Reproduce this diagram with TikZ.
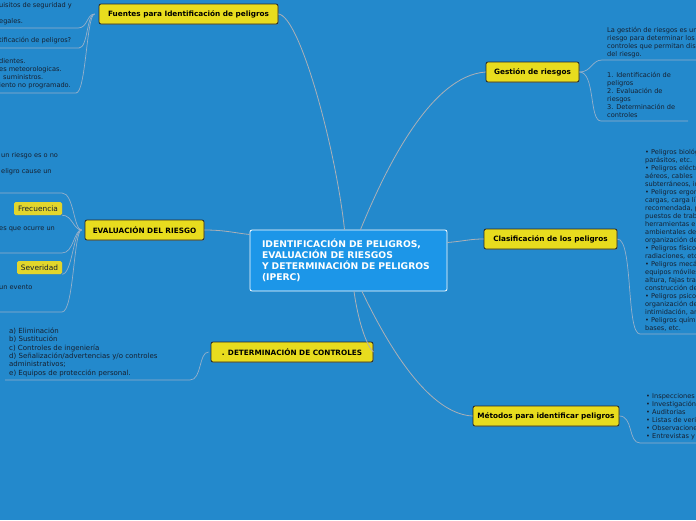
\documentclass[tikz,border=0pt]{standalone}
\usepackage{fontspec}
\setmainfont{DejaVu Sans}
\usepackage{xcolor}
\usepackage{tikz}
\usetikzlibrary{positioning,shadows}
\definecolor{mapbg}{RGB}{35,137,204}
\definecolor{corefill}{RGB}{28,150,232}
\definecolor{topicfill}{RGB}{232,220,30}
\definecolor{tagfill}{RGB}{226,214,44}
\definecolor{inkdark}{RGB}{22,32,48}
\definecolor{branch}{RGB}{172,176,182}
\definecolor{twigline}{RGB}{150,176,202}

\begin{document}
\begin{tikzpicture}[x=1pt,y=-1pt,
  core/.style={draw=white,thick,rounded corners=2pt,fill=corefill,text=white,
               font=\fontsize{9.2}{11}\selectfont\bfseries,align=left,
               text width=173pt,inner xsep=12pt,minimum height=61pt},
  topic/.style={draw=black!85,thick,rounded corners=2pt,fill=topicfill,
                text=black,font=\fontsize{7.3}{8}\selectfont\bfseries,
                minimum height=20pt,inner xsep=0pt,
                drop shadow={shadow xshift=0.8pt,shadow yshift=-0.8pt,opacity=0.35}},
  tag/.style={rounded corners=1.5pt,fill=tagfill,text=inkdark,
              font=\fontsize{7.4}{8}\selectfont,minimum height=13pt,inner xsep=0pt,
              drop shadow={shadow xshift=0.6pt,shadow yshift=-0.6pt,opacity=0.25}},
  leaf/.style={anchor=north west,align=left,inner sep=0pt,text=inkdark,
               font=\fontsize{6.6}{8}\selectfont},
  branchline/.style={draw=branch,line width=0.8pt},
  twig/.style={draw=twigline,line width=0.7pt}
]
\useasboundingbox (0,0) rectangle (696,520);
\clip (0,0) rectangle (696,520);
\fill[mapbg] (0,0) rectangle (696,520);

% central topic and main branches
\node[core] (iperc) at (348.5,260.5) {IDENTIFICACIÓN DE PELIGROS,\\EVALUACIÓN DE RIESGOS\\Y DETERMINACIÓN DE PELIGROS\\(IPERC)};
\node[topic,minimum width=179pt] (fuentes) at (188.5,14) {Fuentes para Identificación de peligros};
\node[topic,minimum width=93pt] (gestion) at (532.5,72) {Gestión de riesgos};
\node[topic,minimum width=119pt] (evaluacion) at (144.5,230) {EVALUACIÓN DEL RIESGO};
\node[topic,minimum width=133pt] (clasif) at (550.5,239) {Clasificación de los peligros};
\node[topic,minimum width=162pt] (determ) at (292,352) {. DETERMINACIÓN DE CONTROLES};
\node[topic,minimum width=146pt] (metodos) at (546,416) {Métodos para identificar peligros};

\draw[branchline] ([xshift=-4]iperc.north) .. controls (336,150) and (300,16) .. (fuentes.east);
\draw[branchline] ([xshift=12]iperc.north) .. controls (385,170) and (430,76) .. (gestion.west);
\draw[branchline] ([yshift=26]iperc.west) .. controls (235,233) and (225,230) .. (evaluacion.east);
\draw[branchline] ([yshift=18]iperc.east) .. controls (465,241) and (470,239) .. (clasif.west);
\draw[branchline] ([xshift=5.5]iperc.south) .. controls (358,320) and (366,345) .. (determ.east);
\draw[branchline] ([xshift=13.5]iperc.south) .. controls (390,350) and (430,414) .. (metodos.west);

% fuentes
\node[leaf] (fu-txt-a) at (-1,2) {uisitos de seguridad y\\[8pt]egales.};
\node[leaf] (fu-txt-b) at (-1,37) {tificación de peligros?};
\node[leaf] (fu-txt-c) at (-1,58) {dientes.\\es meteorologicas.\\\hspace{4pt}suministros.\\iento no programado.};
\coordinate (fu-a) at (0,28);
\coordinate (fu-b) at (0,48);
\coordinate (fu-c) at (0,93);
\draw[twig] (fu-a) -- ++(78,0) .. controls +(10,0) and +(-8,0) .. ([xshift=-4]fuentes.west);
\draw[twig] (fu-b) -- ++(79,0) .. controls +(9,0) and +(-8,0) .. ([xshift=-4]fuentes.west);
\draw[twig] (fu-c) -- ++(76,0) .. controls +(10,0) and +(-8,0) .. ([xshift=-4]fuentes.west);

% gestion
\node[leaf] (ge-txt-a) at (607,27) {La gestión de riesgos es un\\riesgo para determinar los\\controles que permitan dis\\del riesgo.};
\node[leaf] (ge-txt-b) at (607,72) {1. Identificación de\\peligros\\2. Evaluación de\\riesgos\\3. Determinación de\\controles};
\coordinate (ge-a) at (700,60);
\coordinate (ge-b) at (688,121);
\draw[twig] (ge-a) -- ++(-98,0) .. controls +(-10,0) and +(12,0) .. (gestion.east);
\draw[twig] (ge-b) -- ++(-87,0) .. controls +(-12,0) and +(16,0) .. (gestion.east);

% evaluacion
\node[leaf] (ev-txt-a) at (1,152) {un riesgo es o no\\[8pt]eligro cause un};
\node[tag,minimum width=48pt] (frecuencia) at (38,208.5) {Frecuencia};
\node[leaf] (ev-txt-b) at (-1,227) {es que ocurre un};
\node[tag,minimum width=45pt] (severidad) at (39.5,267.5) {Severidad};
\node[leaf] (ev-txt-c) at (-1,285) {un evento};
\coordinate (ev-a) at (0,193);
\coordinate (ev-b) at (0,253);
\coordinate (ev-c) at (0,312);
\draw[twig] (ev-a) -- ++(62,0) .. controls +(12,0) and +(-8,0) .. ([xshift=-3]evaluacion.west);
\draw[twig] (frecuencia.south east) .. controls +(10,0) and +(-8,0) .. ([xshift=-3]evaluacion.west);
\draw[twig] (ev-b) -- ++(62,0) .. controls +(12,0) and +(-8,0) .. ([xshift=-3]evaluacion.west);
\draw[twig] (severidad.south east) .. controls +(10,0) and +(-8,0) .. ([xshift=-3]evaluacion.west);
\draw[twig] (ev-c) -- ++(62,0) .. controls +(12,0) and +(-8,0) .. ([xshift=-3]evaluacion.west);

% clasificacion
\node[leaf] (cl-txt) at (645,149.5) {• Peligros biológ\\parásitos, etc.\\• Peligros eléctr\\aéreos, cables\\subterráneos, in\\• Peligros ergon\\cargas, carga lí\\recomendada, p\\puestos de trab\\herramientas en\\ambientales de\\organización de\\• Peligros físicos\\radiaciones, etc\\• Peligros mecá\\equipos móviles\\altura, fajas tra\\construcción de\\• Peligros psicos\\organización de\\intimidación, am\\• Peligros quími\\bases, etc.};
\coordinate (cl-a) at (700,334);
\draw[twig] (cl-a) -- ++(-60,0) .. controls +(-14,0) and +(16,0) .. (clasif.east);

% determinacion
\node[leaf,font=\fontsize{7}{8.4}\selectfont] (de-txt) at (9,327.5) {a) Eliminación\\b) Sustitución\\c) Controles de ingeniería\\d) Señalización/advertencias y/o controles\\administrativos;\\e) Equipos de protección personal.};
\coordinate (de-a) at (5,380);
\draw[twig] (de-a) -- ++(185,0) .. controls +(12,0) and +(-10,0) .. ([xshift=-2]determ.west);

% metodos
\node[leaf] (me-txt) at (646,393.5) {• Inspecciones\\• Investigación\\• Auditorias\\• Listas de veri\\• Observacione\\• Entrevistas y};
\coordinate (me-a) at (700,443);
\draw[twig] (me-a) -- ++(-60,0) .. controls +(-12,0) and +(14,0) .. (metodos.east);
\end{tikzpicture}
\end{document}
